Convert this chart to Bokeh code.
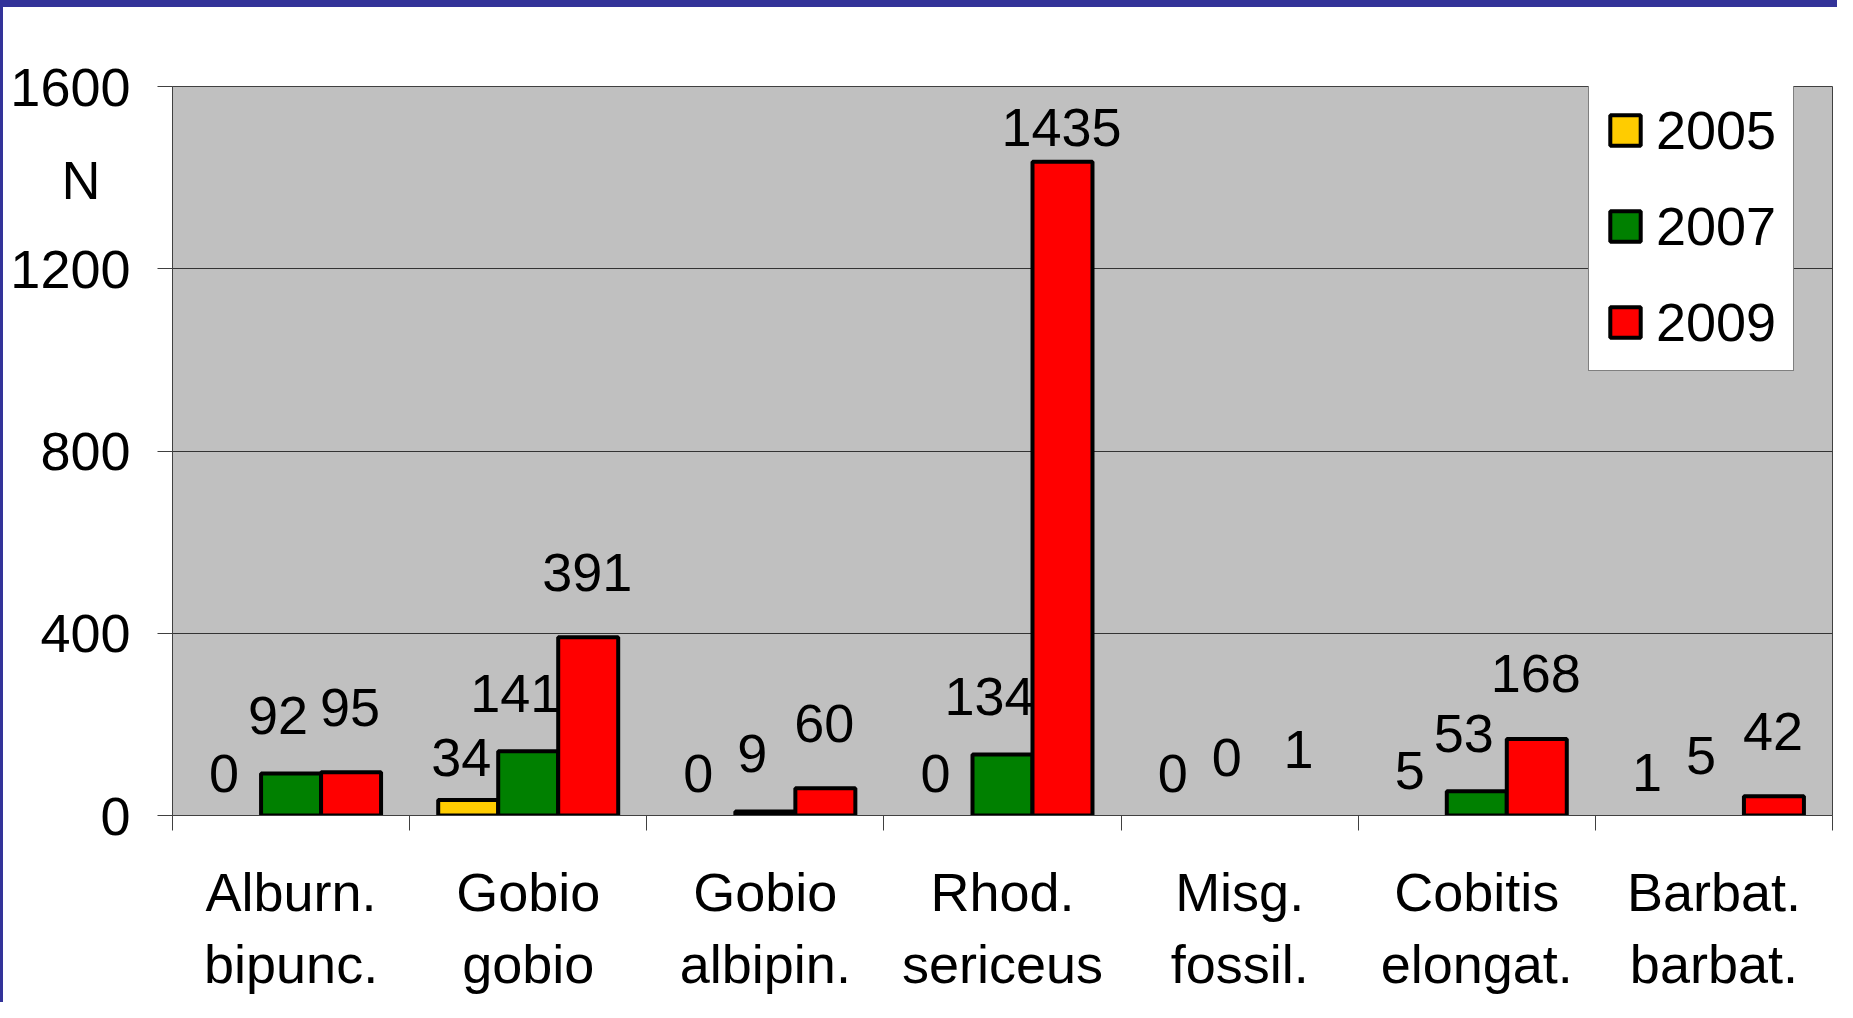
from bokeh.plotting import figure
from bokeh.models import Range1d, FixedTicker, Legend, LegendItem, ColumnDataSource
from bokeh.core.properties import value
from bokeh.embed import file_html
from bokeh.resources import INLINE

# ---- data ----
species_line1 = ["Alburn.", "Gobio", "Gobio", "Rhod.", "Misg.", "Cobitis", "Barbat."]
species_line2 = ["bipunc.", "gobio", "albipin.", "sericeus", "fossil.", "elongat.", "barbat."]
years = ["2005", "2007", "2009"]
n2005 = [0, 34, 0, 0, 0, 5, 1]
n2007 = [92, 141, 9, 134, 0, 53, 5]
n2009 = [95, 391, 60, 1435, 1, 168, 42]
y_ticks = [0, 400, 800, 1200, 1600]
y_axis_title = "N"
y_axis_title_at = 1394

colors = ["#FFCC00", "#008000", "#FF0000"]
series = [n2005, n2007, n2009]

# ---- style ----
FONT = "Liberation Sans"
FS = "54px"
BAR_W = 0.253
offsets = [-BAR_W, 0.0, BAR_W]
label_lift = [93, 127, 143]      # data units above bar top, per series
label_dx = [-7, -13, -1]         # px, per series
label_cap = 1509                 # labels are kept inside the plot area
MIN_VISIBLE = 8                  # very small bars are not visible in the original

W, H = 1837, 1002
p = figure(width=W, height=H, output_backend="svg", toolbar_location=None,
           x_range=Range1d(0, len(species_line1)), y_range=Range1d(y_ticks[0], y_ticks[-1]),
           min_border_left=169, min_border_right=8, min_border_top=79, min_border_bottom=194)
p.styles = {"border-top": "7px solid #333399", "border-left": "3px solid #333399"}
p.background_fill_color = "#C0C0C0"
p.border_fill_color = "white"
p.outline_line_color = "#404040"
p.outline_line_width = 1

renderers = []
for k, (vals, col) in enumerate(zip(series, colors)):
    xs = [i + 0.5 + offsets[k] for i in range(len(vals))]
    bx = [x for x, v in zip(xs, vals) if v >= MIN_VISIBLE]
    bv = [v for v in vals if v >= MIN_VISIBLE]
    src = ColumnDataSource(dict(x=bx, top=bv))
    r = p.vbar(x="x", top="top", bottom=0, width=BAR_W, source=src,
               fill_color=col, line_color="black", line_width=4)
    renderers.append(r)
    ly = [min(v + label_lift[k], label_cap) for v in vals]
    lsrc = ColumnDataSource(dict(x=xs, y=ly, t=[str(v) for v in vals]))
    p.text(x="x", y="y", text="t", source=lsrc, text_font=value(FONT), text_font_size=FS,
           text_align="center", text_baseline="middle", x_offset=label_dx[k],
           text_color="black")

# grid
p.xgrid.grid_line_color = None
p.ygrid.ticker = FixedTicker(ticks=y_ticks)
p.ygrid.grid_line_color = "#333333"
p.ygrid.grid_line_width = 1

# y axis (title "N" shown as a label at its level, tick marks via minor ticks)
p.yaxis.ticker = FixedTicker(ticks=y_ticks + [y_axis_title_at], minor_ticks=y_ticks)
p.yaxis.major_label_overrides = {y_axis_title_at: y_axis_title + "\u00a0\u00a0"}
p.yaxis.major_tick_out = 0
p.yaxis.major_tick_in = 0
p.yaxis.minor_tick_out = 15
p.yaxis.minor_tick_in = 0
p.yaxis.minor_tick_line_color = "#404040"
p.yaxis.major_label_standoff = 27
p.yaxis.major_label_text_font = FONT
p.yaxis.major_label_text_font_size = FS
p.yaxis.major_label_text_color = "black"
p.yaxis.axis_line_color = "#404040"

# x axis
centers = [i + 0.5 for i in range(len(species_line1))]
bounds = [float(i) for i in range(len(species_line1) + 1)]
p.xaxis.ticker = FixedTicker(ticks=centers, minor_ticks=bounds)
p.xaxis.major_label_overrides = {c: a + "\n" + b for c, a, b in zip(centers, species_line1, species_line2)}
p.xaxis.major_tick_out = 0
p.xaxis.major_tick_in = 0
p.xaxis.minor_tick_out = 15
p.xaxis.minor_tick_in = 0
p.xaxis.minor_tick_line_color = "#404040"
p.xaxis.axis_line_color = "#404040"
p.xaxis.major_label_standoff = 31
p.xaxis.major_label_text_font = FONT
p.xaxis.major_label_text_font_size = FS
p.xaxis.major_label_text_color = "black"

legend = Legend(items=[LegendItem(label=y, renderers=[r]) for y, r in zip(years, renderers)],
                location=(1416, 444))
legend.label_text_font = FONT
legend.label_text_font_size = FS
legend.label_text_color = "black"
legend.glyph_width = 38
legend.glyph_height = 38
legend.label_standoff = 12
legend.padding = 17
legend.spacing = 34
legend.label_height = 61
legend.border_line_color = "black"
legend.border_line_width = 1
legend.background_fill_color = "white"
legend.background_fill_alpha = 1
legend.margin = 0
p.add_layout(legend)

open("out.html", "w").write(file_html(p, INLINE))
